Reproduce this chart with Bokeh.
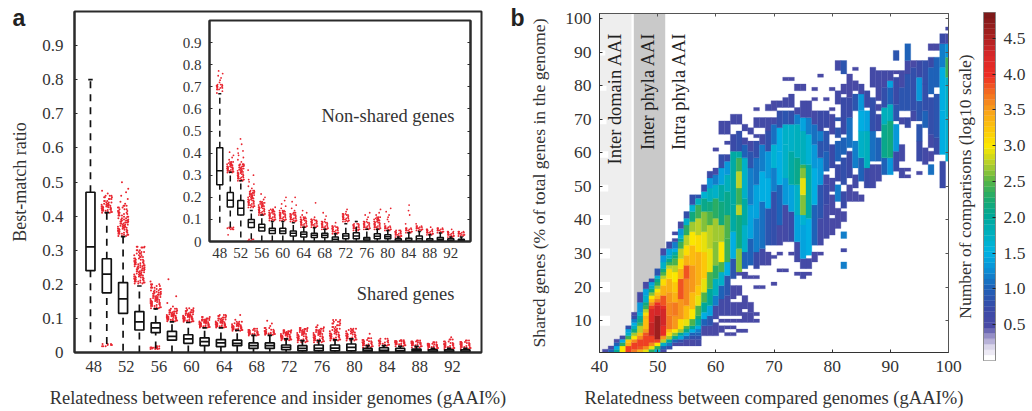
import numpy as np
from bokeh.embed import file_html
from bokeh.resources import INLINE
from bokeh.core.properties import value
from bokeh.models import (ColumnDataSource, FixedTicker, GridBox, LinearAxis,
                          LinearColorMapper, Range1d)
from bokeh.plotting import figure
from bokeh.transform import transform

# ---------- panel a data ----------
gaai_bins = [48, 50, 52, 54, 56, 58, 60, 62, 64, 66, 68, 70, 72, 74, 76, 78, 80, 82, 84, 86, 88, 90, 92, 94]
tick_labels_a = [48, 52, 56, 60, 64, 68, 72, 76, 80, 84, 88, 92]
ratio_ticks = [0, .1, .2, .3, .4, .5, .6, .7, .8, .9]

shared_q1 = [.24, .175, .115, .066, .058, .036, .027, .02, .017, .02, .012, .012, .008, .005, .005, .005, .005, .002, .002, .002, .002, .002, .002, .002]
shared_med = [.31, .23, .157, .09, .072, .047, .04, .032, .028, .027, .02, .02, .015, .012, .012, .013, .015, .006, .006, .005, .005, .004, .004, .004]
shared_q3 = [.47, .275, .205, .12, .087, .062, .052, .043, .038, .036, .028, .028, .022, .02, .022, .022, .025, .012, .014, .012, .01, .008, .008, .008]
shared_lo = [.03, .025, .005, 0, .012, 0, 0, 0, 0, 0, 0, 0, 0, 0, 0, 0, 0, 0, 0, 0, 0, 0, 0, 0]
shared_hi = [.80, .41, .34, .195, .128, .09, .088, .072, .072, .065, .05, .05, .04, .035, .035, .037, .04, .02, .02, .018, .018, .012, .012, .012]

shared_outliers = [
    [],
    [.41, .412, .416, .418, .42, .423, .426, .428, .43, .433, .436, .44, .444, .45, .455, .46, .466, .474, .022, .018, .025],
    [.342, .345, .348, .351, .354, .357, .36, .363, .366, .369, .372, .375, .378, .381, .384, .387, .39, .394, .398, .402, .406, .41, .415, .42, .425, .43, .436, .442, .45, .46, .47, .48, .499],
    [.202, .205, .208, .211, .214, .217, .22, .223, .226, .229, .232, .235, .238, .241, .244, .247, .25, .253, .256, .259, .262, .265, .268, .272, .276, .28, .285, .29, .295, .30, .308, .31],
    [.13, .133, .136, .139, .142, .145, .148, .151, .154, .157, .16, .163, .166, .169, .172, .175, .178, .182, .186, .19, .195, .2, .208, .012, .015, .018, .01, .014],
    [.092, .094, .096, .098, .1, .102, .104, .106, .108, .11, .112, .115, .118, .12, .124, .128, .135, .145, .165, .215],
    [.09, .092, .094, .096, .098, .1, .102, .104, .106, .108, .11, .112, .115, .118, .122, .125, .13],
    [.073, .075, .077, .079, .081, .083, .085, .087, .089, .091, .093, .095, .097, .1, .104],
    [.073, .075, .077, .079, .081, .083, .085, .087, .089, .091, .094, .097, .1, .103, .107, .11],
    [.064, .066, .068, .07, .072, .074, .076, .078, .08, .083, .086, .09, .096, .11],
    [.05, .052, .054, .056, .058, .06, .063, .066, .07],
    [.052, .054, .056, .058, .06, .063, .067, .072, .078, .085, .093],
    [.036, .038, .04, .042, .044, .046, .048, .05, .052, .054, .056, .058, .06, .062, .065],
    [.03, .033, .036, .039, .042, .045, .048, .051, .054, .057, .06, .063, .066, .069, .072],
    [.03, .033, .036, .039, .042, .045, .048, .051, .054, .057, .06, .063, .066, .07, .074, .08],
    [.035, .038, .041, .044, .047, .05, .053, .056, .059, .062, .066, .07, .075, .08, .085, .09, .095],
    [.035, .038, .041, .044, .047, .05, .053, .056, .059, .062, .066, .07],
    [.015, .018, .021, .024, .027, .03, .033, .037, .042, .055],
    [.02, .023, .026, .029, .032, .035, .04],
    [.018, .021, .024, .026, .028, .03, .032, .034, .036],
    [.015, .018, .021, .024, .026, .028, .03, .032, .035],
    [.01, .013, .016, .018, .02, .022, .024, .026, .03],
    [.01, .013, .016, .019, .022, .025, .028, .032, .038, .045],
    [.01, .013, .016, .019, .022, .025, .028, .031, .035],
]

nonshared_q1 = [.257, .156, .12, .063, .048, .036, .036, .025, .02, .018, .018, 0, .012, .012, .004, .012, .012, .002, .002, .002, .002, .004, .002, .002]
nonshared_med = [.32, .187, .151, .086, .063, .05, .048, .037, .033, .028, .028, .01, .025, .025, .011, .024, .022, .006, .006, .012, .006, .01, .006, .005]
nonshared_q3 = [.424, .222, .185, .10, .078, .06, .06, .048, .043, .037, .037, .02, .035, .04, .018, .035, .03, .012, .015, .025, .012, .018, .012, .01]
nonshared_lo = [.085, .063, .018, .01, 0, 0, 0, 0, 0, 0, 0, 0, 0, 0, 0, 0, 0, 0, 0, 0, 0, 0, 0, 0]
nonshared_hi = [.669, .313, .275, .14, .12, .09, .09, .085, .065, .062, .055, .035, .08, .09, .055, .055, .05, .02, .04, .045, .03, .038, .02, .02]

nonshared_outliers = [
    [.672, .68, .688, .695, .70, .705, .71, .72, .73, .74, .75, .76, .772],
    [.312, .316, .32, .324, .328, .332, .336, .34, .345, .35, .355, .36, .37, .38, .39, .404, .064, .06, .055, .03],
    [.275, .28, .285, .29, .295, .30, .305, .31, .315, .32, .325, .33, .335, .34, .345, .35, .36, .37, .38, .39, .40, .41, .42, .44, .464],
    [.154, .16, .165, .17, .175, .18, .185, .19, .195, .20, .205, .21, .215, .22, .225, .23, .24, .25, .26, .27, .28, .30, .323, .01, .004],
    [.12, .125, .13, .135, .14, .145, .15, .155, .16, .165, .17, .175, .18, .19, .20, .215],
    [.095, .10, .105, .11, .115, .12, .125, .13, .135, .14, .145, .155, .002],
    [.095, .10, .105, .11, .115, .12, .125, .13, .135, .14, .15, .16, .17, .185, .20],
    [.09, .095, .10, .105, .11, .115, .12, .125, .13, .14, .15, .165, .18, .20],
    [.065, .07, .075, .08, .085, .09, .095, .10, .105, .11, .12, .13, .14],
    [.065, .07, .075, .08, .085, .09, .095, .10, .11, .175],
    [.055, .06, .065, .07, .075, .08, .085, .09, .10, .115, .13],
    [.035, .04, .045, .05, .055, .06, .065, .07, .085],
    [.09, .095, .10, .105, .11, .115, .12, .125, .135, .145],
    [.05, .055, .06, .065, .07, .075, .08, .09],
    [.055, .06, .065, .07, .075, .08, .085, .09, .10, .11, .12, .13],
    [.055, .06, .065, .07, .075, .08, .085, .09, .095, .10, .105, .11, .12, .13, .145],
    [.05, .055, .06, .065, .07, .08, .09, .10, .11, .12, .135, .15],
    [.02, .025, .03, .035, .04, .045, .05],
    [.04, .045, .05, .055, .06, .08, .12, .14, .165],
    [.05, .055, .06, .065, .07, .08],
    [.03, .035, .04, .045, .05, .055, .065],
    [.04, .045, .05, .055, .06],
    [.02, .025, .03, .035, .04, .045, .055],
    [.025, .03, .035, .04, .045],
]

# ---------- panel b data: per gAAI column, runs of (first y, last y, log10 count) ----------
heat_columns = {
    41: [(1, 1, .5)],
    42: [(1, 1, 1.0), (2, 2, .5)],
    43: [(1, 1, 2.0), (2, 2, 1.5), (3, 3, 1.0), (4, 4, .5)],
    44: [(1, 2, 3.0), (3, 3, 2.3), (4, 4, 1.5), (5, 5, .6)],
    45: [(1, 2, 3.9), (3, 3, 3.4), (4, 4, 3.2), (5, 5, 2.4), (6, 6, 1.7), (7, 7, 1.4), (8, 8, .8)],
    46: [(1, 1, 3.7), (2, 3, 3.9), (4, 4, 3.6), (5, 5, 3.0), (6, 6, 2.7), (7, 7, 2.2), (8, 8, 1.8), (9, 9, 1.5), (10, 10, 1.2), (11, 11, .8), (12, 12, .5)],
    47: [(1, 1, 3.4), (2, 2, 3.8), (3, 4, 3.9), (5, 5, 3.6), (6, 6, 3.3), (7, 8, 2.8), (9, 9, 2.4), (10, 10, 2.1), (11, 11, 1.9), (12, 12, 1.6), (13, 15, 1.3), (16, 18, .6)],
    48: [(1, 1, 2.9), (2, 2, 3.6), (3, 5, 3.9), (6, 6, 3.8), (7, 7, 3.5), (8, 10, 3.3), (11, 11, 3.4), (12, 12, 3.1), (13, 13, 2.8), (14, 14, 2.4), (15, 15, 2.2), (16, 17, 1.7), (18, 19, 1.4), (20, 21, .5)],
    49: [(1, 1, 2.3), (2, 2, 2.9), (3, 3, 3.6), (4, 5, 3.9), (6, 9, 4.4), (10, 13, 4.2), (14, 14, 3.9), (15, 15, 3.6), (16, 16, 3.3), (17, 17, 3.0), (18, 18, 2.6), (19, 19, 2.2), (20, 20, 1.8), (21, 21, 1.4), (22, 22, .7)],
    50: [(1, 1, 1.6), (2, 2, 2.3), (3, 3, 3.0), (4, 4, 3.9), (5, 11, 4.6), (12, 14, 4.3), (15, 15, 4.0), (16, 16, 3.7), (17, 17, 3.4), (18, 18, 3.2), (19, 19, 3.0), (20, 20, 2.7), (21, 21, 2.3), (22, 22, 2.1), (23, 23, 1.6), (24, 25, .9)],
    51: [(1, 1, .5), (2, 2, 1.0), (3, 3, 1.7), (4, 4, 2.8), (5, 5, 3.5), (6, 8, 4.1), (9, 13, 4.3), (14, 14, 4.1), (15, 17, 3.8), (18, 20, 3.4), (21, 22, 3.1), (23, 23, 2.8), (24, 24, 2.5), (25, 25, 2.2), (26, 27, 1.7), (28, 29, 1.3), (30, 31, .6)],
    52: [(2, 2, .8), (3, 3, 1.2), (4, 4, 2.0), (5, 5, 2.7), (6, 6, 3.1), (7, 7, 3.3), (8, 11, 3.7), (12, 15, 3.6), (16, 18, 3.5), (19, 22, 3.4), (23, 25, 3.1), (26, 26, 2.8), (27, 27, 2.4), (28, 28, 2.1), (29, 29, 1.7), (30, 31, 1.4), (32, 33, .7)],
    53: [(3, 3, .5), (4, 4, 1.0), (5, 5, 2.0), (6, 6, 2.6), (7, 7, 3.0), (8, 11, 3.5), (12, 15, 3.7), (16, 18, 3.4), (19, 21, 3.2), (22, 24, 3.0), (25, 26, 2.8), (27, 28, 2.5), (29, 29, 2.2), (30, 30, 1.9), (31, 31, 1.5), (32, 33, 1.2), (34, 34, .6), (36, 36, .6)],
    54: [(3, 3, .5), (4, 4, .8), (5, 5, 1.4), (6, 6, 2.0), (7, 7, 2.7), (8, 10, 3.1), (11, 16, 3.5), (17, 22, 3.8), (23, 25, 3.4), (26, 28, 3.1), (29, 31, 2.8), (32, 33, 2.4), (34, 34, 2.0), (35, 35, 1.6), (36, 37, 1.3), (38, 39, .6)],
    55: [(3, 4, .5), (5, 5, 1.0), (6, 6, 1.4), (7, 7, 2.1), (8, 8, 2.5), (9, 10, 2.9), (11, 14, 3.3), (15, 22, 3.6), (23, 26, 3.8), (27, 29, 3.4), (30, 32, 3.1), (33, 35, 2.8), (36, 38, 2.3), (39, 40, 1.7), (41, 42, .8)],
    56: [(3, 4, .5), (5, 5, .8), (6, 6, 1.0), (7, 7, 1.5), (8, 8, 2.0), (9, 10, 2.5), (11, 13, 3.0), (14, 18, 3.3), (19, 26, 3.5), (27, 32, 3.3), (33, 36, 3.0), (37, 39, 2.7), (40, 42, 2.2), (43, 44, 1.6), (45, 47, .8)],
    57: [(3, 4, .6), (5, 5, .8), (6, 6, 1.0), (7, 7, 1.2), (8, 8, 1.5), (9, 10, 1.9), (11, 11, 2.2), (12, 14, 2.5), (15, 17, 2.9), (18, 20, 3.2), (21, 30, 3.35), (31, 35, 3.1), (36, 40, 2.8), (41, 44, 2.4), (45, 46, 1.8), (47, 47, .9)],
    58: [(6, 8, .5), (9, 10, 1.0), (11, 12, 1.5), (13, 15, 2.0), (16, 18, 2.5), (19, 22, 2.9), (23, 30, 3.2), (31, 36, 2.9), (37, 42, 2.6), (43, 46, 2.1), (47, 48, 1.6), (49, 50, .7)],
    59: [(6, 8, .5), (9, 11, .9), (12, 14, 1.4), (15, 19, 2.0), (20, 24, 2.5), (25, 31, 2.9), (32, 38, 2.8), (39, 42, 2.5), (43, 45, 2.2), (46, 49, 1.8), (50, 52, 1.3), (53, 54, .7)],
    60: [(6, 9, .5), (11, 14, .6), (15, 17, 1.2), (18, 22, 1.8), (23, 26, 2.3), (27, 33, 2.6), (34, 40, 2.7), (41, 46, 2.3), (47, 50, 1.7), (51, 53, 1.2), (54, 55, .6), (61, 61, .5)],
    61: [(7, 8, .5), (10, 10, .5), (12, 16, .6), (17, 20, 1.0), (21, 24, 1.7), (25, 27, 2.5), (28, 33, 3.0), (34, 38, 2.7), (39, 45, 2.2), (46, 50, 1.9), (51, 55, 1.4), (56, 59, .8), (66, 69, .6)],
    62: [(6, 6, .5), (8, 8, .5), (10, 10, .5), (12, 17, .6), (18, 23, .9), (24, 27, 1.5), (28, 34, 2.4), (35, 41, 2.5), (42, 48, 2.1), (49, 53, 1.8), (54, 57, 1.3), (58, 59, .7), (63, 63, .6), (66, 69, .6)],
    63: [(6, 6, .5), (8, 8, .5), (10, 10, .5), (12, 15, .5), (17, 20, .5), (23, 28, .9), (29, 36, 1.5), (37, 44, 1.9), (45, 60, 1.9), (61, 65, .7), (69, 71, .6)],
    64: [(7, 7, .5), (10, 10, .5), (12, 15, .5), (18, 20, .5), (24, 24, .6), (25, 31, 2.6), (32, 41, 2.2), (42, 44, 2.8), (45, 49, 2.4), (50, 54, 2.8), (55, 58, 2.4), (59, 60, 1.9), (61, 66, .8), (69, 71, .6)],
    65: [(7, 7, .5), (10, 12, .5), (14, 17, .5), (23, 24, .5), (26, 30, 1.0), (31, 38, 1.7), (39, 46, 1.9), (47, 58, 1.7), (59, 62, 1.0), (63, 64, .6), (67, 68, .6)],
    66: [(10, 12, .5), (13, 15, .5), (23, 23, .5), (27, 34, 1.0), (35, 44, 1.4), (45, 55, 1.2), (56, 60, .9), (61, 63, .6), (66, 67, .6)],
    67: [(10, 10, .5), (12, 12, .5), (20, 20, .5), (23, 23, .5), (26, 30, .7), (31, 40, 1.2), (41, 50, 1.4), (51, 58, 1.1), (59, 63, .8), (65, 65, .6), (68, 70, .6), (73, 73, .5)],
    68: [(20, 20, .5), (27, 31, .6), (32, 45, 1.1), (46, 54, 1.5), (55, 62, 1.2), (63, 65, .6), (68, 70, .6)],
    69: [(27, 30, .5), (33, 43, .9), (44, 52, 1.5), (53, 60, 1.3), (61, 66, .8), (67, 70, .6), (73, 74, .6)],
    70: [(21, 21, .5), (29, 29, .5), (33, 48, .8), (49, 55, 1.2), (56, 62, 1.6), (63, 68, 1.1), (69, 70, .6), (73, 75, .5)],
    71: [(25, 25, .5), (30, 30, .5), (33, 38, .6), (39, 50, 1.0), (51, 60, 1.5), (61, 67, 1.5), (68, 72, .8), (74, 75, .6)],
    72: [(25, 25, .5), (34, 44, .6), (45, 52, 1.3), (53, 62, 1.7), (63, 68, 1.7), (69, 72, .9), (74, 76, .6), (82, 82, .5)],
    73: [(30, 30, .5), (34, 42, .7), (43, 50, 1.4), (51, 60, 1.9), (61, 68, 1.7), (69, 72, .8), (74, 77, .6), (82, 82, .5)],
    74: [(24, 24, .5), (28, 33, .6), (34, 41, 1.4), (42, 50, 1.7), (51, 58, 2.1), (59, 68, 1.8), (69, 71, 1.2), (72, 73, .6), (79, 80, .5)],
    75: [(23, 24, .6), (26, 28, .6), (29, 38, 1.4), (39, 41, 1.6), (42, 47, 2.6), (48, 52, 2.9), (53, 55, 2.6), (56, 56, 2.4), (57, 66, 1.8), (67, 70, 1.4), (71, 75, .6), (79, 80, .5)],
    76: [(24, 24, .5), (26, 28, .6), (30, 40, 1.5), (41, 56, 1.9), (57, 65, 1.6), (66, 70, 1.2), (71, 75, .6)],
    77: [(28, 30, .5), (33, 44, 1.0), (45, 55, 1.5), (56, 62, 1.3), (63, 68, 1.1), (69, 72, .6), (76, 76, .5), (79, 79, .5)],
    78: [(30, 30, .5), (33, 40, .6), (41, 50, .9), (51, 58, 1.3), (59, 63, .9), (64, 66, 1.2), (67, 72, .7), (83, 83, .5)],
    79: [(35, 44, .6), (45, 50, .7), (51, 53, .6), (55, 60, 1.0), (61, 66, .9), (68, 72, .7), (76, 76, .5)],
    80: [(36, 40, .5), (42, 47, .5), (49, 52, .6), (56, 62, .7), (66, 71, .6), (73, 73, .5), (79, 79, .5)],
    81: [(38, 43, .5), (46, 50, 1.2), (52, 56, .7), (58, 63, 1.0), (65, 67, .9), (70, 70, .9), (75, 78, .6), (85, 87, .6)],
    82: [(26, 27, 1.2), (31, 31, .6), (35, 36, 1.2), (40, 42, .5), (44, 48, .7), (51, 58, .8), (60, 64, 1.0), (66, 76, .7), (78, 80, .5), (84, 87, .9)],
    83: [(46, 50, .5), (53, 60, .7), (62, 70, 1.1), (71, 76, .7), (77, 83, .5)],
    84: [(46, 48, .5), (50, 53, .6), (56, 63, 1.2), (73, 77, .9), (79, 81, .5), (85, 85, .5)],
    85: [(46, 47, .5), (52, 58, 1.0), (59, 66, 1.7), (67, 72, 1.5), (73, 77, 1.3), (78, 80, .6)],
    86: [(50, 55, .7), (56, 66, 1.8), (67, 72, 1.4), (74, 78, .7)],
    87: [(50, 56, .6), (58, 66, 1.1), (67, 76, .8), (80, 85, .6)],
    88: [(52, 56, .6), (58, 64, 1.0), (67, 71, .7), (73, 74, .6), (76, 84, .6)],
    89: [(54, 58, 1.0), (59, 68, 2.1), (69, 73, 1.8), (74, 79, .8), (80, 84, .6)],
    90: [(54, 58, 1.3), (59, 69, 2.2), (70, 74, 1.8), (75, 79, 1.0), (80, 81, 1.4), (82, 84, .6)],
    91: [(55, 60, .7), (61, 68, 1.3), (70, 74, .9), (75, 82, .7), (84, 84, .5), (88, 90, .9)],
    92: [(53, 55, .6), (58, 62, .6), (69, 70, .6), (73, 79, .9), (80, 84, .6)],
    93: [(53, 53, .5), (55, 55, .5), (68, 70, .7), (73, 83, .9), (84, 87, .6), (88, 92, 1.0)],
    94: [(70, 72, .6), (73, 85, .8), (86, 87, .5)],
    95: [(54, 54, .5), (58, 63, .7), (64, 68, .9), (70, 75, .9), (76, 82, 1.3), (83, 87, .7)],
    96: [(57, 61, .6), (68, 72, 1.0), (73, 80, .8), (81, 87, .8)],
    97: [(54, 56, 1.1), (58, 60, .5), (62, 65, .6), (66, 76, .8), (78, 85, 1.0), (86, 88, .7), (91, 92, .5)],
    98: [(60, 64, .7), (65, 77, .9), (80, 88, 1.0), (91, 92, .5)],
    99: [(50, 57, .7), (60, 72, 1.5), (73, 85, 1.5), (86, 92, 1.2), (93, 95, .7)],
    100: [(58, 70, 1.6), (71, 82, 1.7), (83, 88, 2.4), (89, 92, 1.3), (93, 95, .6), (97, 97, .6)],
}
gaai_ticks_b = [40, 50, 60, 70, 80, 90, 100]
shared_ticks_b = [10, 20, 30, 40, 50, 60, 70, 80, 90, 100]
cbar_ticks = [.5, 1.0, 1.5, 2.0, 2.5, 3.0, 3.5, 4.0, 4.5]
cbar_top = 4.86

# ---------- style ----------
SERIF = "Liberation Serif"
INK = "#2b2b2b"
RED = "#e8252f"
ANCHORS = [(0, "#ffffff"), (.15, "#dcd8ec"), (.3, "#9a93c8"), (.45, "#4a4aa5"), (.7, "#3a4aa8"), (1.0, "#1f62b8"),
           (1.25, "#0b8fd6"), (1.5, "#00b4e4"), (1.75, "#00b0c0"), (2.0, "#00a89a"), (2.25, "#1cab6e"), (2.5, "#55b548"),
           (2.75, "#b3cf2c"), (3.0, "#fbe900"), (3.25, "#fdc60a"), (3.5, "#f9a21a"), (3.75, "#f37022"), (4.0, "#ee2e24"),
           (4.3, "#d7282a"), (4.6, "#a3201f"), (4.86, "#7e1a1a")]
JITTER = [-.5, .15, -.2, .45, -.05, .32, -.38, .05, .55, -.45, .22, -.12, .38, -.28, .1, -.55, .5]


def make_palette(n=64):
    stops = [a[0] for a in ANCHORS]
    rgb = np.array([[int(a[1][i:i + 2], 16) for i in (1, 3, 5)] for a in ANCHORS], dtype=float)
    pos = np.linspace(0, cbar_top, n)
    chans = [np.interp(pos, stops, rgb[:, c]) for c in range(3)]
    return ["#%02x%02x%02x" % (int(r), int(g), int(b)) for r, g, b in zip(*chans)]


PALETTE = make_palette()
mapper = LinearColorMapper(palette=PALETTE, low=0, high=cbar_top)


def style_axis(ax, size, tick_in=3, color=INK, width=1):
    ax.major_label_text_font = SERIF
    ax.major_label_text_font_size = size
    ax.major_label_text_color = "#333333"
    ax.axis_label_text_font = SERIF
    ax.axis_label_text_font_style = "normal"
    ax.axis_label_text_color = "#333333"
    ax.major_tick_in = tick_in
    ax.major_tick_out = 0
    ax.minor_tick_in = 0
    ax.minor_tick_out = 0
    ax.major_tick_line_color = color
    ax.axis_line_color = color
    ax.axis_line_width = width


def draw_boxes(p, q1, med, q3, lo, hi, outliers, box_w, lw, dash, spread, dot, close):
    x = gaai_bins
    src = ColumnDataSource(dict(x=x, q1=q1, med=med, q3=q3, lo=lo, hi=hi,
                                left=[v - box_w / 2 for v in x], right=[v + box_w / 2 for v in x],
                                cl=[v - box_w / 4 for v in x], cr=[v + box_w / 4 for v in x]))
    ox, oy = [], []
    for xi, vals in zip(x, outliers):
        for k, v in enumerate(vals):
            # values in a tight cloud overlap; spread them sideways so the cloud reads as solid
            dense = any(0 < abs(v - u) <= close for u in vals)
            for shift in ((0, 5, 11) if dense else (0,)):
                ox.append(xi + JITTER[(k * 3 + shift) % len(JITTER)] * spread)
                oy.append(v)
    p.scatter(ox, oy, size=dot, marker="circle", fill_color=RED, line_color=None)
    p.segment("x", "q3", "x", "hi", source=src, line_color="#111111", line_width=lw, line_dash=dash)
    p.segment("x", "lo", "x", "q1", source=src, line_color="#111111", line_width=lw, line_dash=dash)
    p.segment("cl", "hi", "cr", "hi", source=src, line_color="#111111", line_width=lw)
    p.quad(left="left", right="right", bottom="q1", top="q3", source=src, fill_color="white",
           line_color="#111111", line_width=lw)
    p.segment("left", "med", "right", "med", source=src, line_color="#111111", line_width=lw)


def panel_letter(letter, left):
    pl = figure(width=30, height=40, x_range=Range1d(0, 30), y_range=Range1d(40, 0),
                min_border_left=0, min_border_top=0, min_border_right=0, min_border_bottom=0,
                output_backend="svg", toolbar_location=None, border_fill_color=None, frame_align=False,
                background_fill_color=None, outline_line_color=None, margin=(0, 0, 0, left), align="start")
    pl.axis.visible = False
    pl.grid.visible = False
    pl.text([2], [17], [letter], text_font=value("Liberation Sans"), text_font_style="bold",
            text_font_size="23px", text_color="#222222", text_baseline="middle", text_align="left")
    return pl


H = 410

# ---------- panel a main ----------
pa = figure(width=520, height=H, x_range=Range1d(46.04, 95.97), y_range=Range1d(0, 1),
            min_border_left=74, min_border_top=11, min_border_right=39, min_border_bottom=58,
            output_backend="svg", toolbar_location=None, border_fill_color=None, frame_align=False,
            background_fill_color="white", outline_line_color=INK, outline_line_width=2, align="start")
pa.grid.visible = False
style_axis(pa.xaxis[0], "16.5px", tick_in=0, width=2)
style_axis(pa.yaxis[0], "17px", tick_in=3, width=2)
shifted = [t + .4 for t in tick_labels_a]
pa.xaxis[0].ticker = FixedTicker(ticks=shifted)
pa.xaxis[0].major_label_overrides = {s: str(t) for s, t in zip(shifted, tick_labels_a)}
pa.xaxis[0].major_label_standoff = 8
pa.xaxis[0].axis_label = "Relatedness between reference and insider genomes (gAAI%)"
pa.xaxis[0].axis_label_text_font_size = "18.4px"
pa.xaxis[0].axis_label_standoff = 13
pa.yaxis[0].ticker = FixedTicker(ticks=ratio_ticks)
pa.yaxis[0].major_label_overrides = {0: "0"}
pa.yaxis[0].major_label_standoff = 11
pa.yaxis[0].axis_label = "Best-match ratio"
pa.yaxis[0].axis_label_text_font_size = "18px"
pa.yaxis[0].axis_label_standoff = 9
draw_boxes(pa, shared_q1, shared_med, shared_q3, shared_lo, shared_hi, shared_outliers, 1.1, 1.7, "7 6", 1.15, 2, .006)
pa.text([92.64], [.173], ["Shared genes"], text_font=value(SERIF), text_font_size="18.4px", text_align="right",
        text_baseline="middle", text_color="#333333")

# ---------- panel a inset ----------
pi = figure(width=311, height=252, x_range=Range1d(46.04, 95.75), y_range=Range1d(0, 1),
            min_border_left=40, min_border_top=1, min_border_right=10, min_border_bottom=30,
            output_backend="svg", toolbar_location=None, border_fill_color=None, frame_align=False,
            background_fill_color="white", outline_line_color=INK, outline_line_width=2,
            margin=(19, 0, 0, 169), align="start")
pi.grid.visible = False
style_axis(pi.xaxis[0], "15px", tick_in=0, width=2)
style_axis(pi.yaxis[0], "15px", tick_in=3, width=2)
pi.xaxis[0].ticker = FixedTicker(ticks=tick_labels_a)
pi.xaxis[0].major_label_standoff = 6
pi.yaxis[0].ticker = FixedTicker(ticks=ratio_ticks)
pi.yaxis[0].major_label_overrides = {0: "0"}
pi.yaxis[0].major_label_standoff = 8
right_i = LinearAxis(ticker=FixedTicker(ticks=ratio_ticks))
style_axis(right_i, "1px", tick_in=3, width=2)
right_i.major_label_text_color = None
right_i.major_label_standoff = 0
pi.add_layout(right_i, "right")
draw_boxes(pi, nonshared_q1, nonshared_med, nonshared_q3, nonshared_lo, nonshared_hi, nonshared_outliers, 1.15, 1.5, "6 5", 1.1, 1.8, .0075)
pi.text([92.7], [.566], ["Non-shared genes"], text_font=value(SERIF), text_font_size="18.5px", text_align="right",
        text_baseline="middle", text_color="#333333")

# ---------- panel b ----------
pb = figure(width=480, height=H, x_range=Range1d(40, 100), y_range=Range1d(.53, 101.5),
            min_border_left=89, min_border_top=13, min_border_right=42, min_border_bottom=56,
            output_backend="svg", toolbar_location=None, border_fill_color=None, frame_align=False,
            background_fill_color="white", outline_line_color="#555555", outline_line_width=1,
            margin=(0, 0, 0, 510), align="start")
pb.grid.visible = False
style_axis(pb.xaxis[0], "17.5px", color="#333333")
style_axis(pb.yaxis[0], "17.5px", color="#333333")
pb.xaxis[0].ticker = FixedTicker(ticks=gaai_ticks_b)
pb.xaxis[0].major_label_standoff = 8
pb.xaxis[0].axis_label = "Relatedness between compared genomes (gAAI%)"
pb.xaxis[0].axis_label_text_font_size = "18.6px"
pb.xaxis[0].axis_label_standoff = 12
pb.yaxis[0].ticker = FixedTicker(ticks=shared_ticks_b)
pb.yaxis[0].major_label_standoff = 8
pb.yaxis[0].axis_label = "Shared genes (% of total genes in the genome)"
pb.yaxis[0].axis_label_text_font_size = "17.7px"
pb.yaxis[0].axis_label_standoff = 13
pb.quad(left=[40], right=[45.5], bottom=[.53], top=[101.5], fill_color="#eeeeee", line_color=None)
pb.quad(left=[45.9], right=[51.3], bottom=[.53], top=[101.5], fill_color="#c9c9c9", line_color=None)
pb.quad(left=[40, 40, 40, 40, 40, 40, 40, 40, 40], right=[41.8, 41.8, 41.8, 41.8, 41.5, 41.5, 41.2, 41.2, 41],
        bottom=[8.5, 18.5, 28.5, 38.5, 48.5, 58.5, 68.5, 78.5, 89],
        top=[11.5, 21.5, 31.5, 41.5, 50.5, 60.5, 70, 80, 90.5], fill_color="white", line_color=None)
cx, y0, y1, cv = [], [], [], []
for col, runs in heat_columns.items():
    for a, b, v in runs:
        cx.append(col)
        y0.append(a - .5)
        y1.append(b + .5)
        cv.append(v)
heat = ColumnDataSource(dict(left=[c - .5 for c in cx], right=[c + .5 for c in cx], bottom=y0, top=y1, val=cv))
pb.quad(left="left", right="right", bottom="bottom", top="top", source=heat,
        fill_color=transform("val", mapper), line_color=transform("val", mapper), line_width=.3)
pb.text([42.75, 48.4, 53.6], [95.8, 95.8, 95.8], ["Inter domain AAI", "Inter phyla AAI", "Intra phyla AAI"],
        text_font=value(SERIF), text_font_size="18.4px", text_align="right", text_baseline="middle",
        angle=np.pi / 2, text_color="#222222")
for side in ("above", "right"):
    ax = LinearAxis(ticker=FixedTicker(ticks=gaai_ticks_b if side == "above" else shared_ticks_b))
    style_axis(ax, "1px", color="#555555")
    ax.major_label_text_color = None
    ax.major_label_standoff = 0
    pb.add_layout(ax, side)

# ---------- colour bar ----------
pc = figure(width=81, height=H, x_range=Range1d(0, 1), y_range=Range1d(0, cbar_top),
            min_border_left=33, min_border_top=12, min_border_right=36, min_border_bottom=50,
            output_backend="svg", toolbar_location=None, border_fill_color=None, frame_align=False,
            outline_line_color="#888888", outline_line_width=1, margin=(0, 0, 0, 950), align="start")
pc.grid.visible = False
pc.xaxis.visible = False
edges = np.linspace(0, cbar_top, len(PALETTE) + 1)
pc.quad(left=0, right=1, bottom=edges[:-1], top=edges[1:], fill_color=PALETTE, line_color=PALETTE, line_width=.3)
style_axis(pc.yaxis[0], "1px", tick_in=0, color="#888888")
pc.yaxis[0].major_label_text_color = None
pc.yaxis[0].major_label_standoff = 0
pc.yaxis[0].major_tick_line_color = None
pc.yaxis[0].axis_label = "Number of comparisons (log10 scale)"
pc.yaxis[0].axis_label_text_font_size = "17.5px"
pc.yaxis[0].axis_label_standoff = 9
rc = LinearAxis(ticker=FixedTicker(ticks=cbar_ticks))
style_axis(rc, "17.5px", color="#222222")
rc.axis_line_color = "#888888"
rc.major_label_standoff = 8
rc.major_label_overrides = {1: "1.0", 2: "2.0", 3: "3.0", 4: "4.0"}
pc.add_layout(rc, "right")

page = GridBox(children=[(pa, 0, 0), (pb, 0, 0), (pc, 0, 0), (pi, 0, 0),
                         (panel_letter("a", 10), 0, 0), (panel_letter("b", 508), 0, 0)], width=1032, height=H)
open("out.html", "w").write(file_html(page, INLINE))
